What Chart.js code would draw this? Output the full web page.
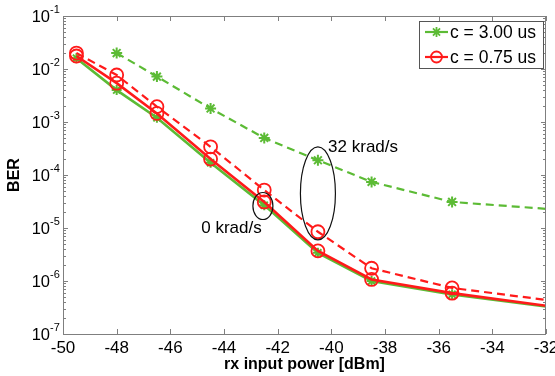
<!DOCTYPE html>
<html>
<head>
<meta charset="utf-8">
<script src="https://cdn.jsdelivr.net/npm/chart.js@4.4.1/dist/chart.umd.min.js"></script>
<style>
  body { margin: 0; background: #fff; }
  canvas { display: block; }
</style>
</head>
<body>
<canvas id="grafico" width="555" height="376"></canvas>
<script>
// rx input power [dBm]
const rxPower = [-49.5, -48, -46.5, -44.5, -42.5, -40.5, -38.5, -35.5, -32];
// BER, 0 krad/s
const berC300_0 = [1.6e-2, 4.0e-3, 1.2e-3, 1.7e-4, 2.7e-5, 3.4e-6, 1.0e-6, 5.6e-7, 3.3e-7];
const berC075_0 = [1.76e-2, 5.4e-3, 1.45e-3, 2.0e-4, 3.1e-5, 3.7e-6, 1.07e-6, 5.9e-7, 3.4e-7];
// BER, 32 krad/s
const berC300_32 = [null, 2.0e-2, 7.2e-3, 1.8e-3, 5.0e-4, 1.9e-4, 7.4e-5, 3.1e-5, 2.3e-5];
const berC075_32 = [2.0e-2, 7.7e-3, 1.95e-3, 3.4e-4, 5.2e-5, 8.5e-6, 1.74e-6, 7.4e-7, 4.4e-7];

const legendLabels = ["c = 3.00 us", "c = 0.75 us"];
const xTicks = [-50, -48, -46, -44, -42, -40, -38, -36, -34, -32];
const yTickExp = [-7, -6, -5, -4, -3, -2, -1];

const GREEN = "#5cbb35";
const RED = "#ff1a1a";
const AXIS = "#7f7f7f";
const FONT = "'Liberation Sans', Arial, sans-serif";

function pts(arr) {
  return rxPower.map((x, i) => ({ x: x, y: arr[i] }));
}
// no marker on the last point (curve runs off the edge)
function markerSize(r) {
  return (c) => (c.dataIndex === rxPower.length - 1 ? 0 : r);
}

const decor = {
  id: "decor",
  afterDraw(chart) {
    const { ctx, chartArea: a, scales } = chart;
    const x = scales.x, y = scales.y;
    ctx.save();

    // axes box + inward ticks
    ctx.strokeStyle = AXIS;
    ctx.lineWidth = 1;
    ctx.strokeRect(a.left + 0.5, a.top + 0.5, a.right - a.left - 1, a.bottom - a.top);
    ctx.beginPath();
    xTicks.forEach((v) => {
      const px = Math.round(x.getPixelForValue(v)) + 0.5;
      ctx.moveTo(px, a.bottom); ctx.lineTo(px, a.bottom - 5);
      ctx.moveTo(px, a.top); ctx.lineTo(px, a.top + 5);
    });
    yTickExp.forEach((e) => {
      for (let m = 1; m <= 9; m++) {
        const v = m * Math.pow(10, e);
        if (v > 0.1 + 1e-12) break;
        const py = Math.round(y.getPixelForValue(v)) + 0.5;
        const len = m === 1 ? 5 : 3;
        ctx.moveTo(a.left, py); ctx.lineTo(a.left + len, py);
        ctx.moveTo(a.right, py); ctx.lineTo(a.right - len, py);
      }
    });
    ctx.stroke();

    // tick labels
    ctx.fillStyle = "#000";
    ctx.font = "17px " + FONT;
    ctx.textAlign = "center";
    ctx.textBaseline = "alphabetic";
    xTicks.forEach((v) => {
      ctx.fillText(String(v), x.getPixelForValue(v), 353);
    });
    yTickExp.forEach((e) => {
      const py = y.getPixelForValue(Math.pow(10, e));
      ctx.font = "16.5px " + FONT;
      ctx.textAlign = "right";
      ctx.textBaseline = "middle";
      ctx.fillText("10", 50, py + 1);
      ctx.font = "11px " + FONT;
      ctx.textAlign = "left";
      ctx.fillText(String(e), 50, py - 6);
    });

    // axis titles
    ctx.font = "bold 16px " + FONT;
    ctx.textAlign = "center";
    ctx.textBaseline = "alphabetic";
    ctx.fillText("rx input power [dBm]", (a.left + a.right) / 2, 369);
    ctx.save();
    ctx.translate(19, (a.top + a.bottom) / 2);
    ctx.rotate(-Math.PI / 2);
    ctx.fillText("BER", 0, 0);
    ctx.restore();

    // annotations: ellipses + labels
    ctx.strokeStyle = "#111";
    ctx.lineWidth = 1.2;
    ctx.beginPath();
    ctx.ellipse(x.getPixelForValue(-42.55), y.getPixelForValue(2.6e-5), 10, 13.5, 0, 0, 2 * Math.PI);
    ctx.stroke();
    ctx.beginPath();
    ctx.ellipse(x.getPixelForValue(-40.5), y.getPixelForValue(4.5e-5), 17.5, 46.5, 0, 0, 2 * Math.PI);
    ctx.stroke();
    ctx.font = "17px " + FONT;
    ctx.textBaseline = "middle";
    ctx.textAlign = "center";
    ctx.fillText("0 krad/s", x.getPixelForValue(-43.72), y.getPixelForValue(9.8e-6));
    ctx.textAlign = "left";
    ctx.fillText("32 krad/s", x.getPixelForValue(-40.12), y.getPixelForValue(3.4e-4));

    // legend
    const lx = 419, ly = 21, lw = 124, lh = 47;
    ctx.fillStyle = "#fff";
    ctx.fillRect(lx, ly, lw, lh);
    ctx.strokeStyle = "#555";
    ctx.lineWidth = 1;
    ctx.strokeRect(lx + 0.5, ly + 0.5, lw, lh);
    const rows = [
      { label: legendLabels[0], color: GREEN, style: "star", yy: 32 },
      { label: legendLabels[1], color: RED, style: "circle", yy: 57 },
    ];
    rows.forEach((r) => {
      ctx.strokeStyle = r.color;
      ctx.lineWidth = 2.2;
      ctx.beginPath();
      ctx.moveTo(425, r.yy); ctx.lineTo(448, r.yy);
      ctx.stroke();
      ctx.lineWidth = 1.8;
      ctx.beginPath();
      if (r.style === "circle") {
        ctx.arc(436.5, r.yy, 5.5, 0, 2 * Math.PI);
      } else {
        for (let k = 0; k < 4; k++) {
          const t = (k * Math.PI) / 4;
          ctx.moveTo(436.5 - 5 * Math.cos(t), r.yy - 5 * Math.sin(t));
          ctx.lineTo(436.5 + 5 * Math.cos(t), r.yy + 5 * Math.sin(t));
        }
      }
      ctx.stroke();
      ctx.fillStyle = "#000";
      ctx.font = "17.5px " + FONT;
      ctx.textAlign = "left";
      ctx.textBaseline = "middle";
      ctx.fillText(r.label, 450, r.yy + 1);
    });

    ctx.restore();
  },
};

new Chart(document.getElementById("grafico"), {
  type: "line",
  data: {
    datasets: [
      {
        label: "c = 0.75 us, 0 krad/s",
        data: pts(berC075_0),
        borderColor: RED,
        borderWidth: 2.6,
        pointStyle: "circle",
        pointRadius: markerSize(6.5),
        pointBorderColor: RED,
        pointBorderWidth: 1.8,
        pointBackgroundColor: "rgba(0,0,0,0)",
        order: 0,
      },
      {
        label: "c = 0.75 us, 32 krad/s",
        data: pts(berC075_32),
        borderColor: RED,
        borderWidth: 2.2,
        borderDash: [8, 5],
        pointStyle: "circle",
        pointRadius: markerSize(6.5),
        pointBorderColor: RED,
        pointBorderWidth: 1.8,
        pointBackgroundColor: "rgba(0,0,0,0)",
        order: 1,
      },
      {
        label: "c = 3.00 us, 0 krad/s",
        data: pts(berC300_0),
        borderColor: GREEN,
        borderWidth: 2.6,
        pointStyle: "star",
        pointRadius: markerSize(5),
        pointBorderColor: GREEN,
        pointBorderWidth: 2,
        order: 2,
      },
      {
        label: "c = 3.00 us, 32 krad/s",
        data: pts(berC300_32),
        borderColor: GREEN,
        borderWidth: 2.2,
        borderDash: [8, 5],
        pointStyle: "star",
        pointRadius: markerSize(5.5),
        pointBorderColor: GREEN,
        pointBorderWidth: 2,
        order: 3,
      },
    ],
  },
  options: {
    responsive: false,
    animation: false,
    devicePixelRatio: 1,
    layout: { padding: { top: 16, right: 9, left: 0, bottom: 0 } },
    plugins: { legend: { display: false }, tooltip: { enabled: false } },
    scales: {
      x: {
        type: "linear",
        min: -50,
        max: -32,
        grid: { display: false },
        border: { display: false },
        ticks: { display: false },
        afterFit: (s) => { s.height = 42; },
      },
      y: {
        type: "logarithmic",
        min: 1e-7,
        max: 1e-1,
        grid: { display: false },
        border: { display: false },
        ticks: { display: false },
        afterFit: (s) => { s.width = 63; },
      },
    },
  },
  plugins: [decor],
});
</script>
</body>
</html>
